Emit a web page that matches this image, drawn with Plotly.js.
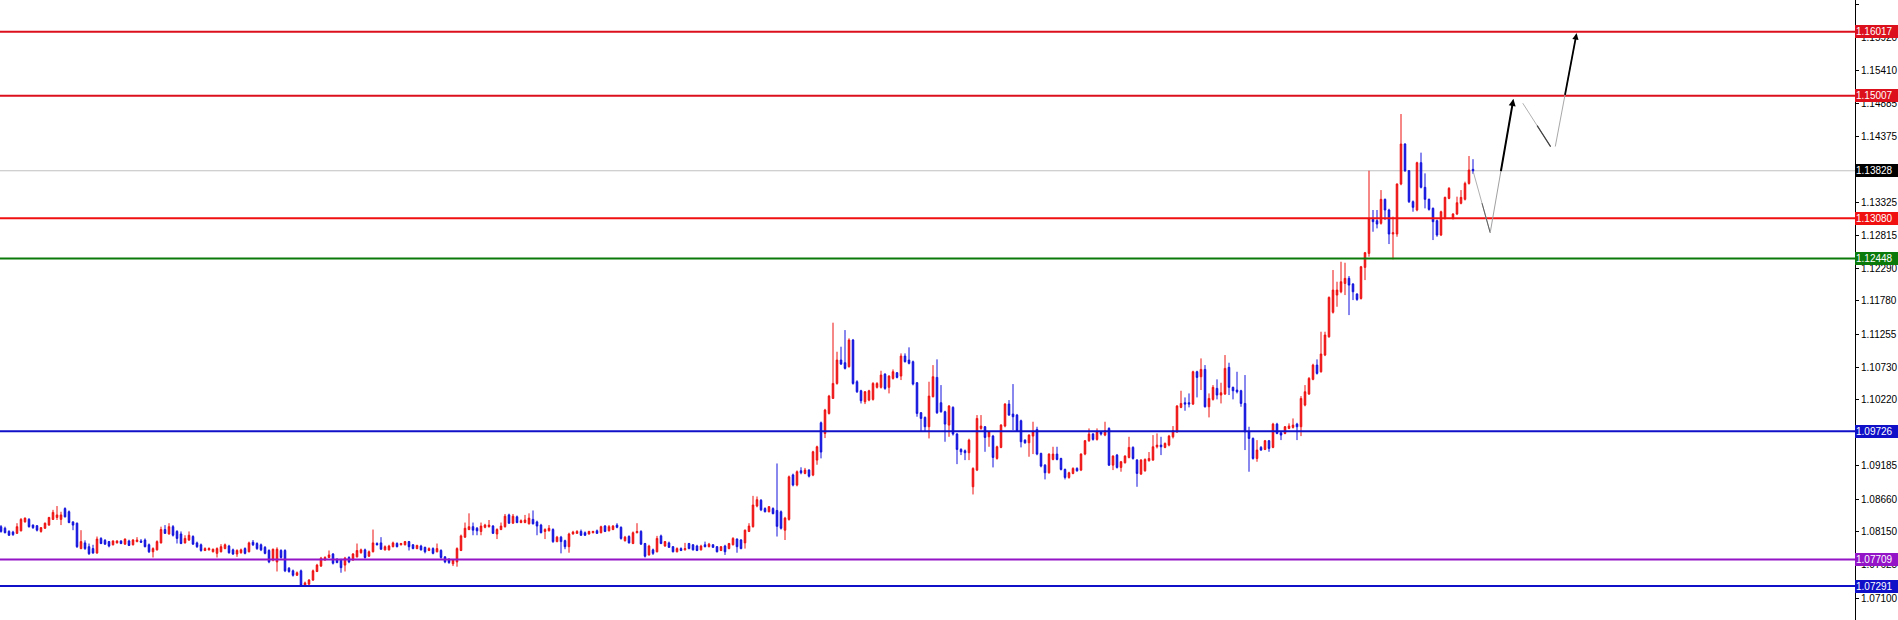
<!DOCTYPE html>
<html><head><meta charset="utf-8">
<script src="https://cdn.plot.ly/plotly-3.0.1.min.js"></script>
<style>html,body{margin:0;padding:0;background:#fff;}#chart{width:1898px;height:620px;}</style>
</head><body><div id="chart"></div>
<script>
// ---- OHLC values (bar index 0..368) ----
const openP = [
1.08225,1.0820,1.0815,1.0814,1.0812,1.0816,1.0830,1.0834,1.0825,1.0824,
1.0815,1.0820,1.0825,1.0834,1.0837,1.0834,1.0851,1.0846,1.0830,1.0828,
1.0788,1.0797,1.0791,1.0788,1.0781,1.0804,1.0801,1.0799,1.0794,1.0797,
1.0800,1.0795,1.0800,1.0794,1.0799,1.0800,1.08015,1.0794,1.0783,1.0786,
1.0797,1.0818,1.0811,1.08225,1.0815,1.0811,1.0797,1.08015,1.0807,1.0797,
1.0794,1.0785,1.0786,1.0783,1.07805,1.0783,1.0788,1.0792,1.0786,1.07795,
1.07815,1.0788,1.0783,1.0798,1.0796,1.0794,1.0790,1.0785,1.0770,1.0767,
1.0785,1.0785,1.0757,1.0753,1.0746,1.0753,1.0730,1.0732,1.07385,1.0752,
1.07605,1.0770,1.0774,1.07795,1.0771,1.0770,1.0762,1.0774,1.0770,1.0775,
1.07815,1.0786,1.0776,1.0783,1.0796,1.0797,1.0786,1.0786,1.0791,1.0796,
1.0794,1.0794,1.0799,1.0794,1.0788,1.0792,1.0790,1.0785,1.0788,1.0783,
1.0785,1.0775,1.0771,1.0764,1.0767,1.0785,1.0806,1.0818,1.08225,1.0820,
1.0815,1.08215,1.08225,1.08235,1.0811,1.0818,1.08225,1.0841,1.0828,1.0838,
1.0829,1.0829,1.0827,1.0834,1.0830,1.0825,1.0815,1.0816,1.0818,1.0799,
1.0806,1.08005,1.0791,1.0811,1.0812,1.0815,1.0813,1.0811,1.0813,1.0816,
1.0813,1.08235,1.0816,1.0818,1.0825,1.08215,1.08005,1.0807,1.0796,1.0813,
1.0815,1.0796,1.0778,1.0786,1.0783,1.0808,1.0792,1.0797,1.0791,1.0783,
1.0788,1.0786,1.0796,1.0794,1.0792,1.0786,1.0794,1.0791,1.0794,1.0791,
1.0785,1.0792,1.0788,1.0794,1.0803,1.08015,1.0797,1.0815,1.08225,1.0855,
1.0864,1.0851,1.0846,1.0851,1.0848,1.0846,1.0817,1.0834,1.0904,1.0888,
1.09105,1.09063,1.09116,1.09037,1.09273,1.0986,1.09693,1.10008,1.10244,1.1048,
1.10848,1.10806,1.10743,1.11163,1.10507,1.10365,1.10192,1.10218,1.10229,1.10418,
1.10418,1.10627,1.10418,1.10559,1.10648,1.10596,1.10911,1.10848,1.10822,1.10491,
1.10019,1.09945,1.09798,1.10271,1.10575,1.10176,1.10034,1.09824,1.10103,1.09683,
1.09441,1.0942,1.09389,1.08853,1.09116,1.09772,1.09798,1.0964,1.09651,1.09299,
1.09473,1.09809,1.10155,1.09998,1.09982,1.09893,1.09588,1.09546,1.09651,1.09756,
1.09378,1.09194,1.09074,1.09284,1.09368,1.09299,1.09126,1.0900,1.09063,1.09142,
1.09116,1.09368,1.09578,1.09683,1.09599,1.09719,1.09667,1.09772,1.09194,1.09352,
1.09158,1.09231,1.09315,1.09473,1.09273,1.09053,1.09105,1.09263,1.09273,1.09483,
1.09509,1.09473,1.09509,1.0964,1.09719,1.10103,1.10176,1.10176,1.10155,1.10664,
1.10585,1.10701,1.10113,1.10229,1.10402,1.10297,1.10313,1.10733,1.10418,1.10376,
1.10365,1.10165,1.09719,1.09614,1.09299,1.09473,1.09441,1.09578,1.09473,1.0984,
1.09703,1.09693,1.09772,1.09788,1.0984,1.09798,1.10139,1.10313,1.10544,1.10769,
1.10664,1.10927,1.11214,1.1160,1.11871,1.11923,1.12054,1.12134,1.12044,1.11887,
1.11818,1.12307,1.12527,1.13063,1.13042,1.1300,1.13378,1.1321,1.12832,1.12832,
1.13619,1.14249,1.13829,1.13341,1.1321,1.13955,1.13567,1.13378,1.13236,1.13042,
1.12816,1.13078,1.13393,1.13078,1.13147,1.13315,1.13378,1.13629,1.1385];
const highP = [
1.0825,1.08225,1.0817,1.0816,1.0828,1.0836,1.0837,1.0836,1.0826,1.0825,
1.0822,1.0829,1.0838,1.0849,1.0855,1.0846,1.0853,1.0848,1.0831,1.0829,
1.0817,1.0801,1.0796,1.0794,1.0807,1.0806,1.0803,1.0800,1.0801,1.0801,
1.0801,1.0804,1.0802,1.0803,1.0806,1.0803,1.0804,1.0796,1.0790,1.0801,
1.08225,1.0825,1.0828,1.0825,1.0817,1.0815,1.0809,1.0815,1.0809,1.0799,
1.0796,1.0790,1.0790,1.0788,1.0790,1.0795,1.0796,1.0794,1.0788,1.0787,
1.0788,1.0790,1.0799,1.08015,1.0798,1.0796,1.0792,1.0787,1.0788,1.0790,
1.0787,1.0787,1.0759,1.0755,1.0752,1.0755,1.0736,1.0740,1.0755,1.0764,
1.0775,1.0776,1.0785,1.0781,1.0773,1.0772,1.0775,1.0776,1.0781,1.0796,
1.0788,1.0788,1.0785,1.0818,1.0798,1.0806,1.0793,1.0794,1.0799,1.0798,
1.0797,1.0800,1.0800,1.0795,1.0794,1.0794,1.0791,1.0790,1.0790,1.0796,
1.0787,1.0776,1.0773,1.0771,1.0790,1.0810,1.0829,1.08435,1.0829,1.0822,
1.0829,1.0827,1.0833,1.0825,1.0820,1.0829,1.08425,1.0843,1.08425,1.0840,
1.0834,1.0841,1.08435,1.0848,1.0832,1.0827,1.0820,1.0825,1.0820,1.0808,
1.0808,1.0802,1.0813,1.0816,1.0817,1.0818,1.0815,1.0816,1.0816,1.0818,
1.0824,1.0825,1.0825,1.0825,1.0828,1.0823,1.0808,1.0809,1.0815,1.0828,
1.0817,1.0797,1.0794,1.0788,1.0808,1.0810,1.0800,1.0799,1.0792,1.0790,
1.0790,1.0797,1.0797,1.0795,1.0794,1.0794,1.0799,1.0797,1.0795,1.0792,
1.0792,1.0794,1.0797,1.0806,1.0804,1.0803,1.0818,1.0828,1.0871,1.0870,
1.0866,1.0853,1.0855,1.0853,1.0922,1.0848,1.0838,1.0903,1.0906,1.0911,
1.0916,1.0915,1.0913,1.0942,1.0950,1.0988,1.1008,1.1030,1.11436,1.10979,
1.11058,1.1132,1.1119,1.1118,1.1053,1.1038,1.1036,1.1038,1.1050,1.1050,
1.1068,1.1064,1.1061,1.10701,1.1066,1.10953,1.10953,1.11048,1.1084,1.1050,
1.1003,1.0996,1.10507,1.10769,1.10859,1.10454,1.1005,1.1014,1.1012,1.0970,
1.0946,1.0944,1.0961,1.0916,1.09982,1.09982,1.0981,1.0973,1.0967,1.0950,
1.0984,1.1017,1.10218,1.1047,1.1000,1.0991,1.0960,1.0968,1.09877,1.09798,
1.0939,1.0921,1.0938,1.09483,1.09483,1.0931,1.0914,1.0909,1.0916,1.0916,
1.0938,1.0959,1.09772,1.0970,1.09772,1.0973,1.09877,1.0979,1.0935,1.0937,
1.0926,1.0935,1.0964,1.0949,1.0929,1.0929,1.0930,1.0940,1.09667,1.09693,
1.0964,1.0955,1.0967,1.09809,1.1014,1.10365,1.1026,1.10323,1.1068,1.1068,
1.10874,1.10769,1.10323,1.10454,1.10544,1.10491,1.10927,1.10806,1.1043,1.10664,
1.1038,1.10612,1.09798,1.0963,1.09588,1.09494,1.0959,1.0959,1.0986,1.0986,
1.0972,1.0981,1.09851,1.09929,1.0986,1.10281,1.10454,1.1058,1.1079,1.10859,
1.11294,1.11294,1.1185,1.12265,1.12081,1.12396,1.1238,1.1217,1.1206,1.1190,
1.1233,1.1255,1.13829,1.1321,1.1321,1.13524,1.1339,1.1323,1.13105,1.13629,
1.14721,1.1426,1.1384,1.1336,1.1397,1.14113,1.13787,1.1339,1.1325,1.1306,
1.1320,1.1342,1.1357,1.1316,1.1342,1.13524,1.13656,1.1406,1.1401];
const lowP = [
1.0813,1.0812,1.0808,1.0808,1.0811,1.0815,1.0829,1.0821,1.0819,1.0815,
1.0813,1.0819,1.0824,1.0833,1.0833,1.0825,1.0837,1.0828,1.0817,1.0789,
1.0787,1.0786,1.0778,1.0780,1.0780,1.0795,1.0794,1.0790,1.0793,1.0796,
1.0795,1.0794,1.0792,1.0793,1.0798,1.0797,1.0790,1.0781,1.0774,1.0785,
1.0796,1.0811,1.0810,1.0807,1.0796,1.0795,1.0796,1.0800,1.0794,1.0789,
1.0783,1.0784,1.0785,1.0782,1.0774,1.0782,1.0787,1.0780,1.0778,1.0775,
1.0780,1.0779,1.0782,1.0792,1.0786,1.0784,1.0779,1.0765,1.0768,1.0752,
1.0772,1.0751,1.0750,1.0744,1.0745,1.0729,1.0729,1.0731,1.0737,1.0751,
1.0759,1.0769,1.0773,1.0763,1.0765,1.0750,1.0752,1.0765,1.0769,1.0774,
1.0780,1.0772,1.0775,1.0782,1.0793,1.0786,1.0785,1.0785,1.0790,1.0790,
1.0793,1.0793,1.0785,1.0787,1.0787,1.0785,1.07805,1.0784,1.0779,1.0782,
1.0772,1.0765,1.0764,1.07605,1.07595,1.0784,1.0805,1.0817,1.0809,1.0809,
1.0809,1.0820,1.0821,1.0811,1.0803,1.0817,1.0821,1.0827,1.0827,1.0828,
1.0828,1.0828,1.0826,1.0826,1.0809,1.0812,1.0803,1.0815,1.0797,1.0798,
1.07805,1.0787,1.07815,1.0810,1.0811,1.0808,1.0808,1.0810,1.0812,1.0811,
1.0812,1.0814,1.0815,1.0817,1.0820,1.0802,1.0799,1.0796,1.0795,1.0812,
1.0794,1.0774,1.0777,1.0778,1.0782,1.0795,1.0791,1.0789,1.0782,1.0782,
1.0784,1.0785,1.0787,1.0785,1.0784,1.0785,1.0790,1.0790,1.0789,1.0782,
1.0784,1.0778,1.0787,1.0793,1.07815,1.0787,1.0788,1.0814,1.0821,1.0853,
1.0847,1.0845,1.0845,1.0842,1.0807,1.0818,1.08015,1.0832,1.0886,1.0886,
1.0905,1.0905,1.0900,1.0902,1.0920,1.0930,1.0962,1.0999,1.1024,1.1046,
1.1077,1.1070,1.1073,1.1046,1.1033,1.10165,1.10155,1.1020,1.1021,1.1040,
1.1040,1.1038,1.10323,1.1054,1.1056,1.10533,1.1081,1.1078,1.1045,1.09956,
1.09719,1.09719,1.09614,1.1026,1.1000,1.1002,1.09562,1.0964,1.0966,1.0921,
1.09352,1.09273,1.09273,1.08732,1.0910,1.0975,1.09404,1.09483,1.09158,1.0928,
1.0946,1.0979,1.0997,1.09746,1.0972,1.09473,1.0953,1.09326,1.09368,1.0935,
1.0916,1.08969,1.0906,1.0927,1.0927,1.0911,1.08969,1.0898,1.0905,1.0909,
1.0910,1.0935,1.0956,1.0958,1.0958,1.0966,1.0965,1.0918,1.09116,1.0914,
1.0909,1.0922,1.0930,1.0928,1.08853,1.0904,1.0909,1.0925,1.09263,1.09457,
1.09352,1.0946,1.0949,1.09614,1.0970,1.1009,1.1005,1.10103,1.1014,1.1026,
1.10376,1.1010,1.09945,1.1021,1.10229,1.10165,1.1030,1.10297,1.10229,1.10323,
1.10113,1.09431,1.0909,1.0928,1.09247,1.0942,1.0943,1.09404,1.0946,1.0968,
1.09588,1.0968,1.0976,1.0977,1.09588,1.09651,1.1012,1.1030,1.1053,1.1062,
1.1065,1.1091,1.1120,1.1158,1.11687,1.1190,1.11871,1.11556,1.11792,1.1178,
1.1180,1.12107,1.12475,1.12868,1.12921,1.1298,1.13052,1.12674,1.12433,1.12789,
1.1360,1.1381,1.1332,1.13183,1.1319,1.1355,1.13236,1.1320,1.12737,1.12789,
1.1280,1.1306,1.1338,1.1306,1.1313,1.1330,1.1336,1.1361,1.1378];
const closeP = [
1.0815,1.0813,1.0809,1.0810,1.08225,1.0834,1.0836,1.08225,1.0821,1.0817,
1.0821,1.0828,1.0837,1.0845,1.0841,1.0841,1.0838,1.0829,1.0825,1.0791,
1.0799,1.0788,1.0780,1.0781,1.0803,1.0796,1.0795,1.0792,1.0800,1.0800,
1.0796,1.0803,1.0793,1.08015,1.08015,1.0798,1.0791,1.0783,1.0788,1.0799,
1.0818,1.0812,1.08225,1.0809,1.0804,1.0796,1.0804,1.0809,1.0795,1.0791,
1.0785,1.0788,1.0788,1.0787,1.0788,1.0791,1.0794,1.07815,1.07795,1.0785,
1.0786,1.07805,1.0797,1.0794,1.0788,1.0786,1.07805,1.0767,1.0787,1.0787,
1.0774,1.0753,1.0752,1.0746,1.0750,1.0730,1.0734,1.07385,1.0753,1.0762,
1.0773,1.0774,1.0778,1.0765,1.0766,1.0758,1.0773,1.0767,1.07795,1.0785,
1.0786,1.0774,1.0783,1.0797,1.0794,1.0787,1.0791,1.0792,1.0797,1.0791,
1.0796,1.0799,1.0791,1.0788,1.0793,1.0786,1.0783,1.0788,1.07805,1.0788,
1.0774,1.0767,1.0766,1.0770,1.0788,1.0808,1.0820,1.08225,1.0817,1.0816,
1.08235,1.0825,1.0825,1.0812,1.0818,1.08235,1.0839,1.0828,1.0839,1.0829,
1.0832,1.0833,1.0836,1.0827,1.08235,1.0813,1.0818,1.0820,1.0799,1.0806,
1.0799,1.0791,1.0811,1.0814,1.0815,1.0809,1.0809,1.0815,1.0815,1.0812,
1.08225,1.0815,1.08225,1.08235,1.08215,1.0804,1.0806,1.0797,1.0813,1.0815,
1.0795,1.0776,1.0792,1.07805,1.0804,1.0796,1.0799,1.0790,1.0783,1.0788,
1.0785,1.0788,1.0788,1.0786,1.0785,1.0792,1.0791,1.0795,1.0790,1.0783,
1.0791,1.0783,1.0796,1.0804,1.0791,1.0788,1.0817,1.08235,1.08566,1.0865,
1.0849,1.0846,1.0854,1.0843,1.0823,1.0820,1.0836,1.0901,1.0888,1.0909,
1.09074,1.09116,1.0902,1.09404,1.09483,1.0940,1.10061,1.10281,1.1048,1.10848,
1.10785,1.10717,1.11163,1.1048,1.10349,1.10208,1.10349,1.10365,1.1048,1.1048,
1.10612,1.10402,1.10596,1.10664,1.10575,1.10911,1.10822,1.10796,1.1047,1.10008,
1.09929,1.09798,1.10281,1.10585,1.10019,1.10034,1.0984,1.10124,1.09683,1.09441,
1.09404,1.09389,1.09588,1.09142,1.09929,1.09809,1.0963,1.09719,1.09315,1.09483,
1.09824,1.10155,1.09982,1.09956,1.09735,1.09562,1.09546,1.09667,1.09719,1.09368,
1.09179,1.09074,1.09368,1.09368,1.09284,1.09126,1.0900,1.09074,1.09142,1.09105,
1.09368,1.09578,1.09683,1.09599,1.09719,1.09683,1.09735,1.09194,1.09336,1.09158,
1.09247,1.09336,1.09473,1.09299,1.09063,1.09273,1.09284,1.09299,1.09483,1.09509,
1.09483,1.09536,1.09651,1.09735,1.10124,1.10165,1.10155,1.10155,1.10664,1.10575,
1.10701,1.10113,1.10244,1.10418,1.10297,1.10333,1.10717,1.10418,1.10365,1.10349,
1.10165,1.09719,1.09614,1.09299,1.09431,1.09431,1.09578,1.09457,1.0984,1.09693,
1.09667,1.09798,1.09809,1.09824,1.09798,1.10244,1.10349,1.10559,1.10769,1.10638,
1.10943,1.11242,1.11834,1.1195,1.1195,1.12081,1.12134,1.12028,1.11923,1.11802,
1.12317,1.12538,1.13078,1.13026,1.12989,1.13378,1.1321,1.12832,1.12853,1.13619,
1.14249,1.13829,1.13341,1.13252,1.13955,1.13567,1.13378,1.1322,1.13026,1.12816,
1.13183,1.13409,1.13551,1.13147,1.13325,1.13409,1.13629,1.1384,1.13828];

// ---- horizontal levels and their label colours ----
const levelValues = [1.16017, 1.15007, 1.13080, 1.12448, 1.09726, 1.07709, 1.07291];
const levelColors = ['#dc0f1c', '#dc0f1c', '#f01010', '#0a7a0a', '#1010c8', '#9414c8', '#1010c8'];
const currentPrice = 1.13828;

// ---- right axis tick labels ----
const tickValues = [1.07100, 1.07625, 1.08150, 1.08660, 1.09185, 1.10220, 1.10730,
  1.11255, 1.11780, 1.12290, 1.12815, 1.13325, 1.14375, 1.14885, 1.15410, 1.15920, 1.16445];

// ---- projected path (bar position, price) ----
const pathBars   = [368, 372.3, 378.1, 380.2, 387.4, 388.5, 393.9];
const pathPrices = [1.13828, 1.12853, 1.14957, 1.14915, 1.14207, 1.14186, 1.15992];

const RED = '#ee1111', BLUE = '#1111dd';
const idx = openP.map((_, i) => i);

const candle = {
  type: 'candlestick', x: idx, open: openP, high: highP, low: lowP, close: closeP,
  increasing: {line: {color: RED, width: 1}, fillcolor: RED},
  decreasing: {line: {color: BLUE, width: 1}, fillcolor: BLUE},
  whiskerwidth: 0, hoverinfo: 'skip', showlegend: false
};

const shapes = [];
shapes.push({type: 'line', xref: 'paper', x0: 0, x1: 1, yref: 'y', y0: currentPrice, y1: currentPrice,
  line: {color: '#c0c0c0', width: 1}, layer: 'below'});
levelValues.forEach((v, k) => shapes.push({type: 'line', xref: 'paper', x0: 0, x1: 1, yref: 'y', y0: v, y1: v,
  line: {color: levelColors[k], width: 2}, layer: 'above'}));

const annotations = [];
function boxLabel(v, bg) {
  annotations.push({xref: 'paper', x: 1, xanchor: 'left', yref: 'y', y: v, yanchor: 'middle',
    text: v.toFixed(5), showarrow: false, bgcolor: bg, borderwidth: 0, borderpad: 1,
    width: 41, height: 11, align: 'left', valign: 'middle',
    font: {family: 'Liberation Sans, Arial, sans-serif', size: 10, color: '#ffffff'}});
}
levelValues.forEach((v, k) => boxLabel(v, levelColors[k]));
boxLabel(currentPrice, '#000000');

function seg(a, b, color, width, head, frac) {
  const f = frac || 0;
  const sx = pathBars[a] + (pathBars[b] - pathBars[a]) * f;
  const sy = pathPrices[a] + (pathPrices[b] - pathPrices[a]) * f;
  annotations.push({xref: 'x', yref: 'y', axref: 'x', ayref: 'y', x: pathBars[b], y: pathPrices[b],
    ax: sx, ay: sy, text: '', showarrow: true, arrowhead: head ? 2 : 0, arrowsize: 0.7,
    arrowwidth: width, arrowcolor: color, standoff: 0, startstandoff: 0});
}
// down leg 1
seg(0, 1, '#b0b0b0', 1, false);
seg(0, 1, '#606060', 1, false, 0.5);
// up leg 1
seg(1, 2, '#a0a0a0', 1, false);
seg(1, 2, '#000000', 2, true, 0.45);
// down leg 2
seg(3, 4, '#b0b0b0', 1, false);
seg(3, 4, '#404040', 1.2, false, 0.5);
// up leg 2
seg(5, 6, '#a8a8a8', 1, false);
seg(5, 6, '#000000', 1.8, true, 0.45);

const layout = {
  width: 1898, height: 620,
  margin: {l: 0, r: 43, t: 0, b: 0, pad: 0},
  paper_bgcolor: '#ffffff', plot_bgcolor: '#ffffff',
  showlegend: false, boxgap: 0.45, dragmode: false,
  xaxis: {range: [-0.25, 463.5], visible: false, rangeslider: {visible: false}, fixedrange: true},
  yaxis: {side: 'right', range: [1.06756, 1.16516], showgrid: false, zeroline: false,
    showline: true, linecolor: '#000000', linewidth: 1, ticks: 'outside', ticklen: 3,
    tickcolor: '#000000', tickvals: tickValues, ticktext: tickValues.map(v => v.toFixed(5)),
    tickfont: {family: 'Liberation Sans, Arial, sans-serif', size: 10, color: '#000000'},
    fixedrange: true},
  shapes: shapes, annotations: annotations
};

Plotly.newPlot('chart', [candle], layout, {staticPlot: true, displayModeBar: false});
</script></body></html>
